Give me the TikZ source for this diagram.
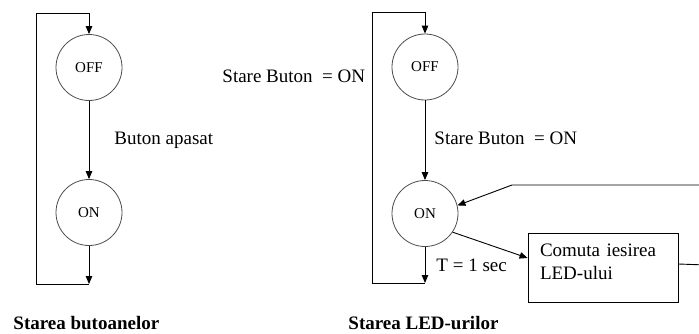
\documentclass[tikz,border=0pt]{standalone}
\usepackage{fontspec}
\setmainfont{Liberation Serif}
\usetikzlibrary{arrows.meta}
\begin{document}
\begin{tikzpicture}[x=1pt,y=-1pt,
  line width=0.9pt,
  arr/.style={-{Triangle[length=8pt,width=6.5pt]}},
  state/.style={circle,draw=black!70,line width=0.8pt,minimum size=66pt,inner sep=0pt,font=\fontsize{15}{17}\selectfont},
  lbl/.style={anchor=west,inner sep=0pt,font=\fontsize{19}{22}\selectfont},
  ttl/.style={anchor=west,inner sep=0pt,font=\fontsize{19}{22}\selectfont\bfseries},
  boxst/.style={draw,line width=0.8pt,minimum width=150pt,minimum height=69pt,text width=126pt,align=left,inner xsep=12pt,font=\fontsize{19}{23}\selectfont}]
\clip (0,0) rectangle (699,333);
% left diagram
\node[state] (off1) at (89,67.5) {OFF};
\node[state] (on1) at (89,212.5) {ON};
\coordinate (b1) at (89,284);
\coordinate (bl1) at (36,284);
\coordinate (tl1) at (36,13);
\coordinate (t1) at (89,13);
\draw[arr] (off1.south) -- (on1.north);
\draw[arr] (on1.south) -- (b1);
\draw[arr] (b1) -- (bl1) -- (tl1) -- (t1) -- (off1.north);
\node[lbl] (l1) at (114,140) {Buton apasat};
\node[ttl] (t1txt) at (13,323) {Starea butoanelor};
% right diagram
\node[state] (off2) at (425,67) {OFF};
\node[state] (on2) at (425,213.5) {ON};
\coordinate (b2) at (425,283);
\coordinate (bl2) at (372,283);
\coordinate (tl2) at (372,12);
\coordinate (t2) at (425,12);
\draw[arr] (off2.south) -- (on2.north);
\draw[arr] (on2.south) -- (b2);
\draw[arr] (b2) -- (bl2) -- (tl2) -- (t2) -- (off2.north);
\node[lbl] (l2) at (222,76) {Stare Buton\ \ = ON};
\node[lbl] (l3) at (434,138) {Stare Buton\ \ = ON};
\node[lbl] (l4) at (436,265) {T = 1 sec};
\node[ttl] (t2txt) at (348,323) {Starea LED-urilor};
\node[boxst] (box) at (603,267.5) {\raisebox{4pt}[\height][\depth]{\begin{tabular}{@{}l@{}}Comuta iesirea\\LED-ului\end{tabular}}};
\draw[arr] (on2.-34) -- ([yshift=9.5pt]box.west);
\coordinate (r1) at (720,265.5);
\coordinate (r2) at (720,185);
\coordinate (k) at (512,185);
\draw[arr] ([yshift=3.5pt]box.east) -- (r1) -- (r2) -- (k) -- (on2.14);
\end{tikzpicture}
\end{document}
